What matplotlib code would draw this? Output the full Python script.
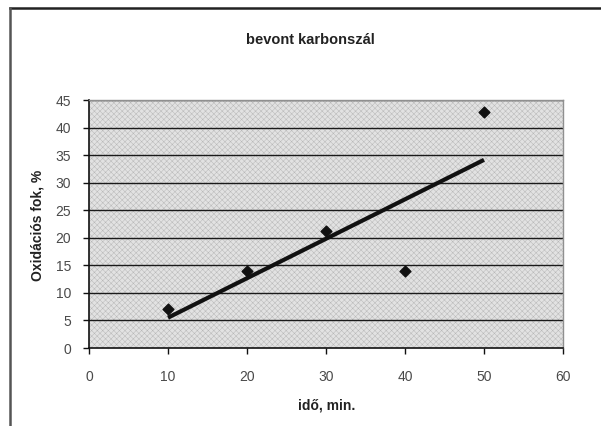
import matplotlib.pyplot as plt
import numpy as np
from matplotlib.lines import Line2D
from matplotlib.patches import Rectangle

# measured oxidation degree vs. time
ido_min = [10, 20, 30, 40, 50]
oxidacio = [7.0, 14.0, 21.3, 14.0, 42.8]

x_ticks = [0, 10, 20, 30, 40, 50, 60]
y_ticks = [0, 5, 10, 15, 20, 25, 30, 35, 40, 45]

plt.rcParams["font.family"] = ["Liberation Sans", "DejaVu Sans"]
plt.rcParams["hatch.linewidth"] = 0.35

fig = plt.figure(figsize=(6.01, 4.26), dpi=100)
ax = fig.add_axes([89 / 601, 1 - 348 / 426, (563 - 89) / 601, (348 - 100) / 426])

# stippled grey plot area
ax.set_facecolor("#e2e2e2")
ax.add_patch(Rectangle((0, 0), 1, 1, transform=ax.transAxes, facecolor="none",
                       edgecolor="#b8b8b8", hatch="xxxxxx", lw=0, zorder=0))

for y in y_ticks[1:]:
    ax.axhline(y, color="#1a1a1a", lw=1.0, zorder=1)

# linear trend line
slope, icpt = np.polyfit(ido_min, oxidacio, 1)
xs = np.array([min(ido_min), max(ido_min)])
ax.plot(xs, slope * xs + icpt, color="#111111", lw=3, solid_capstyle="butt", zorder=3)

ax.scatter(ido_min, oxidacio, marker="D", s=30, color="#111111", zorder=4)

ax.set_xlim(0, 60)
ax.set_ylim(0, 45)
ax.set_xticks(x_ticks)
ax.set_yticks(y_ticks)
ax.tick_params(direction="out", length=4, width=1, colors="#111111",
               labelcolor="#4a4a4a", labelsize=10, pad=12)
ax.tick_params(axis="y", pad=9)

for side in ("left", "bottom"):
    ax.spines[side].set_color("#111111")
    ax.spines[side].set_linewidth(1.2)
for side in ("right", "top"):
    ax.spines[side].set_color("#909090")
    ax.spines[side].set_linewidth(1.0)

fig.text(310 / 601, 1 - 40 / 426, "bevont karbonszál", ha="center", va="center",
         fontsize=10.5, fontweight="bold", color="#222222")
fig.text(38 / 601, 1 - 225 / 426, "Oxidációs fok, %", ha="center", va="center",
         rotation=90, fontsize=10, fontweight="bold", color="#222222")
fig.text(327 / 601, 1 - 405 / 426, "idő, min.", ha="center", va="center",
         fontsize=10, fontweight="bold", color="#222222")

# outer chart frame (top and left edges)
fig.add_artist(Line2D([9.5 / 601, 1], [1 - 8 / 426, 1 - 8 / 426],
                      transform=fig.transFigure, color="#222222", lw=1.8))
fig.add_artist(Line2D([9.5 / 601, 9.5 / 601], [0, 1 - 8 / 426],
                      transform=fig.transFigure, color="#555555", lw=1.8))

fig.savefig("out.png", dpi=100)
